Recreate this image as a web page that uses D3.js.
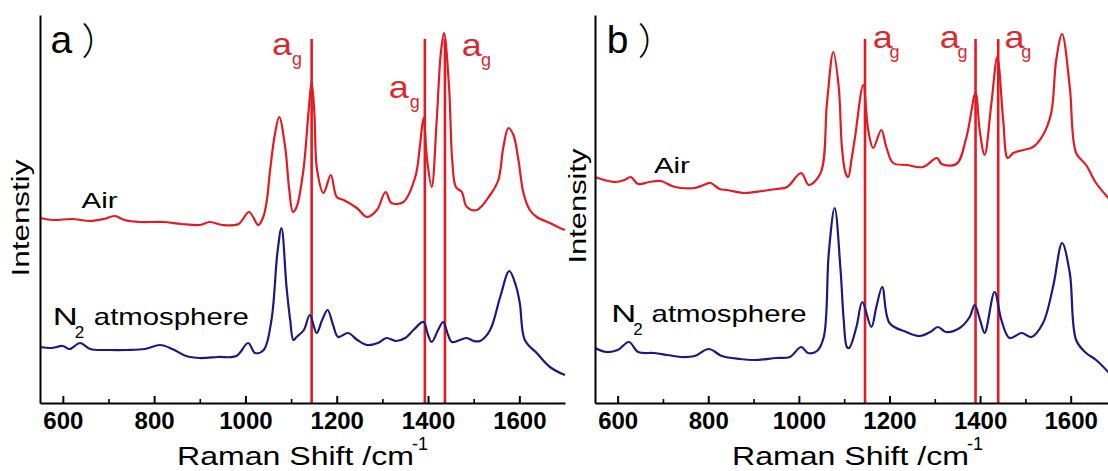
<!DOCTYPE html>
<html><head><meta charset="utf-8">
<script src="https://cdn.jsdelivr.net/npm/d3@7"></script>
<style>html,body{margin:0;padding:0;background:#fff;}svg{display:block;}</style>
</head><body>
<svg id="chart" width="1108" height="471"></svg>
<script>
// ---------- DATA (wavenumber cm^-1, intensity a.u.) ----------
const xTicksMajor = [600, 800, 1000, 1200, 1400, 1600];
const xTicksMinor = [700, 900, 1100, 1300, 1500];

const airA = [[550,185],[580,183],[620,184],[660,182],[690,184],[714,187],[735,183],[770,181],[820,181],[860,179],[900,178],[922,181],[950,178],[985,179],[1008,191],[1028,178],[1039,186],[1047,203],[1054,233],[1065,270],[1074,286],[1087,256],[1096,213],[1104,191],[1112,196],[1127,233],[1138,290],[1145,321],[1151,290],[1157,233],[1171,210],[1187,228],[1200,206],[1215,203],[1244,195],[1266,186],[1288,193],[1307,211],[1320,200],[1346,201],[1372,226],[1382,256],[1390,285],[1398,243],[1408,216],[1419,283],[1428,350],[1435,370],[1446,316],[1453,243],[1461,216],[1474,211],[1485,196],[1507,193],[1536,208],[1554,223],[1565,256],[1576,275],[1587,268],[1598,243],[1609,210],[1623,193],[1638,186],[1667,180],[1689,175],[1700,173]];
const n2A = [[550,56],[575,55],[600,57],[615,54],[638,60],[660,54],[700,53],[740,53],[780,54],[813,58],[840,54],[870,47],[900,45],[940,46],[980,47],[1006,60],[1021,50],[1040,53],[1057,83],[1070,150],[1079,175],[1090,116],[1098,83],[1105,63],[1112,66],[1128,73],[1141,88],[1156,70],[1168,83],[1180,93],[1192,78],[1203,66],[1225,70],[1245,63],[1266,58],[1290,60],[1309,65],[1330,62],[1350,65],[1368,73],[1390,81],[1400,68],[1408,61],[1422,73],[1433,81],[1444,68],[1452,61],[1470,63],[1485,65],[1500,62],[1514,62],[1536,73],[1558,106],[1578,132],[1592,118],[1601,100],[1612,63],[1638,50],[1667,36],[1700,28]];

const airB = [[550,226],[570,223],[595,221],[615,223],[629,226],[645,219],[670,221],[695,222],[720,217],[739,215],[770,215],[790,218],[805,220],[825,214],[842,213],[879,210],[920,212],[950,214],[974,216],[1005,230],[1022,218],[1048,230],[1062,300],[1076,351],[1088,316],[1095,256],[1103,230],[1109,226],[1116,243],[1124,266],[1142,318],[1153,273],[1164,255],[1182,273],[1193,256],[1208,240],[1238,238],[1274,236],[1305,245],[1315,239],[1348,239],[1370,266],[1390,310],[1399,273],[1410,248],[1425,300],[1438,346],[1451,283],[1461,245],[1473,250],[1495,253],[1517,256],[1539,268],[1557,290],[1568,343],[1581,369],[1598,316],[1612,250],[1634,238],[1656,220],[1685,204]];
const n2B = [[550,55],[575,51],[600,53],[625,61],[645,51],[680,50],[710,48],[739,46],[770,47],[801,54],[830,47],[870,44],[901,43],[950,45],[980,46],[1005,56],[1020,50],[1040,52],[1055,66],[1066,150],[1079,195],[1092,133],[1099,83],[1106,56],[1111,55],[1127,76],[1140,101],[1160,76],[1171,96],[1184,116],[1200,80],[1237,71],[1267,67],[1290,71],[1307,76],[1325,71],[1355,75],[1377,86],[1388,98],[1400,83],[1410,70],[1432,111],[1447,83],[1465,65],[1492,70],[1513,66],[1539,80],[1561,116],[1581,160],[1598,130],[1612,63],[1634,50],[1656,43],[1685,30]];

const modesA = [1145, 1393, 1437];
const modesB = [1146, 1390, 1440];
const modeTop = 364;
const seriesNames = ["Air", "N", "atmosphere"];

// ---------- STYLE ----------
const RED = "#e41a22", BLUE = "#1b1a82", LABELRED = "#da2a30";
const FONT = "'Liberation Sans', Arial, Helvetica, sans-serif";
const svg = d3.select("#chart");
svg.append("rect").attr("width",1108).attr("height",471).attr("fill","#fff");

const y = d3.scaleLinear().domain([0, 388]).range([403, 15]);

function panel(cfg) {
  const x = d3.scaleLinear().domain([550, 1700]).range(cfg.range);
  const g = svg.append("g");
  const line = d3.line().x(d => x(d[0])).y(d => y(d[1])).curve(d3.curveCatmullRom.alpha(0.5));

  // mode lines
  g.selectAll("line.mode").data(cfg.modes).join("line")
    .attr("x1", d => x(d)).attr("x2", d => x(d))
    .attr("y1", y(0)).attr("y2", y(modeTop))
    .attr("stroke", RED).attr("stroke-width", 2.6);

  g.append("path").datum(cfg.air).attr("d", line).attr("fill","none")
    .attr("stroke", RED).attr("stroke-width", 2.2).attr("stroke-linejoin","round");
  g.append("path").datum(cfg.n2).attr("d", line).attr("fill","none")
    .attr("stroke", BLUE).attr("stroke-width", 2.2).attr("stroke-linejoin","round");

  // axes
  const ax = g.append("g").attr("transform", `translate(0,${y(0)})`)
    .call(d3.axisBottom(x).tickValues(xTicksMajor).tickFormat(d3.format("d"))
      .tickSize(-7).tickSizeOuter(0).tickPadding(0));
  ax.select(".domain").attr("stroke","#000").attr("stroke-width",2);
  ax.selectAll(".tick line").attr("stroke","#000").attr("stroke-width",2);
  ax.selectAll(".tick text").attr("y", 26).attr("dy", 0)
    .attr("font-family", FONT).attr("font-weight","bold").attr("font-size", 24).attr("fill","#000");
  const axm = g.append("g").attr("transform", `translate(0,${y(0)})`)
    .call(d3.axisBottom(x).tickValues(xTicksMinor).tickSize(-4).tickSizeOuter(0).tickFormat(""));
  axm.select(".domain").remove();
  axm.selectAll(".tick line").attr("stroke","#000").attr("stroke-width",1.6);
  const ay = g.append("g").attr("transform", `translate(${cfg.range[0]},0)`)
    .call(d3.axisLeft(y).tickValues([]).tickSizeOuter(0));
  ay.select(".domain").attr("stroke","#000").attr("stroke-width",2);

  // axis titles
  const x0 = cfg.range[0];
  g.append("text").attr("x", x0 + 137).attr("y", 465).attr("font-family", FONT)
    .attr("font-size", 26).attr("textLength", 237).attr("lengthAdjust","spacingAndGlyphs")
    .text("Raman Shift /cm");
  g.append("text").attr("x", x0 + 372).attr("y", 450).attr("font-family", FONT)
    .attr("font-size", 18).text("-1");
  g.append("text").attr("transform", `translate(${cfg.ytitleX},${cfg.ytitleY}) rotate(-90)`)
    .attr("text-anchor","middle").attr("font-family", FONT).attr("font-size", 23)
    .attr("textLength", cfg.ytitleLen).attr("lengthAdjust","spacingAndGlyphs").text(cfg.ytitle);

  // panel letter
  g.append("text").attr("x", x(cfg.letterAt[0])).attr("y", y(cfg.letterAt[1]))
    .attr("font-family", FONT).attr("font-size", 39).text(cfg.letter);
  g.append("text").attr("x", x(cfg.letterAt[0]) + 31).attr("y", y(cfg.letterAt[1]) + 2)
    .attr("font-family", "'Noto Sans CJK SC', sans-serif").attr("font-weight", 300)
    .attr("font-size", 37).text("）");

  // series labels
  g.append("text").attr("x", x(cfg.airAt[0])).attr("y", y(cfg.airAt[1]))
    .attr("font-family", FONT).attr("font-size", 22).attr("textLength", 36)
    .attr("lengthAdjust","spacingAndGlyphs").text(seriesNames[0]);
  g.append("text").attr("x", x(cfg.nAt[0])).attr("y", y(cfg.nAt[1]))
    .attr("font-family", FONT).attr("font-size", 24).attr("textLength", 25)
    .attr("lengthAdjust","spacingAndGlyphs").text(seriesNames[1]);
  g.append("text").attr("x", x(cfg.nAt[0]) + 22).attr("y", y(cfg.nAt[1] - 13))
    .attr("font-family", FONT).attr("font-size", 17).text("2");
  g.append("text").attr("x", x(cfg.atmAt[0])).attr("y", y(cfg.nAt[1]))
    .attr("font-family", FONT).attr("font-size", 24).attr("textLength", 155)
    .attr("lengthAdjust","spacingAndGlyphs").text(seriesNames[2]);

  // a_g labels
  cfg.ag.forEach(d => {
    g.append("text").attr("x", x(d[0])).attr("y", y(d[1])).attr("fill", LABELRED)
      .attr("font-family", FONT).attr("font-size", 32).attr("textLength", 20)
      .attr("lengthAdjust","spacingAndGlyphs").text("a");
    g.append("text").attr("x", x(d[2])).attr("y", y(d[1] - 10)).attr("fill", LABELRED)
      .attr("font-family", FONT).attr("font-size", 18).text("g");
  });
}

panel({ range: [40, 565], air: airA, n2: n2A, modes: modesA,
  letter: "a", letterAt: [573, 350],
  airAt: [641, 195], nAt: [578, 78], atmAt: [668, 78],
  ag: [[1058, 348, 1102], [1314, 305, 1360], [1474, 347, 1516]],
  ytitle: "Intenstiy", ytitleX: 29, ytitleY: 218, ytitleLen: 117 });
panel({ range: [595, 1116], air: airB, n2: n2B, modes: modesB,
  letter: "b", letterAt: [576, 350],
  airAt: [680, 230], nAt: [586, 81], atmAt: [675, 81],
  ag: [[1163, 355, 1200], [1311, 355, 1350], [1454, 355, 1491]],
  ytitle: "Intensity", ytitleX: 586, ytitleY: 206, ytitleLen: 115 });
</script>
</body></html>
